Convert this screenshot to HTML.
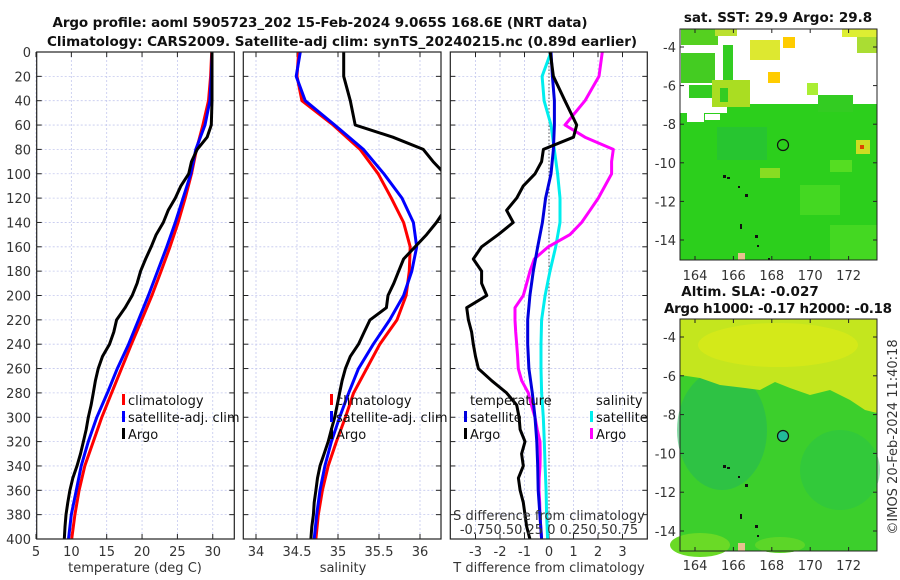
<!DOCTYPE html>
<html><head><meta charset="utf-8">
<style>
html,body{margin:0;padding:0;background:#fff;}
svg{display:block;font-family:"DejaVu Sans","Liberation Sans",sans-serif;}
.tk{font-size:13px;fill:#333;}
.ttl{font-size:13.5px;font-weight:bold;fill:#111;}
.lg{font-size:13px;fill:#111;}
</style></head>
<body>
<svg id="fig" width="900" height="580" viewBox="0 0 900 580">
<defs>
<clipPath id="c1"><rect x="36.7" y="52" width="197.6" height="487"/></clipPath>
<clipPath id="c2"><rect x="243.3" y="52" width="197.7" height="487"/></clipPath>
<clipPath id="c3"><rect x="450.3" y="52" width="197" height="487"/></clipPath>
</defs>
<g id="titles">
<text class="ttl" x="320" y="27" text-anchor="middle" textLength="535">Argo profile: aoml 5905723_202 15-Feb-2024 9.065S 168.6E (NRT data)</text>
<text class="ttl" x="342" y="46" text-anchor="middle" textLength="590">Climatology: CARS2009. Satellite-adj clim: synTS_20240215.nc (0.89d earlier)</text>
</g>
<g id="panels"></g>

<!-- SST map -->
<g>
<text class="ttl" x="778" y="22" text-anchor="middle">sat. SST: 29.9 Argo: 29.8</text>
<rect x="680" y="29" width="197" height="231" fill="#fff"/>
<rect x="680" y="113" width="197" height="147" fill="#2ccf1c"/>
<rect x="727" y="104" width="150" height="10" fill="#2ccf1c"/>
<rect x="687" y="112" width="17" height="10" fill="#fff"/>
<rect x="705" y="114" width="15" height="6" fill="#fff"/>
<rect x="717" y="127" width="50" height="33" fill="#22bb44" opacity="0.5"/>
<rect x="681" y="29" width="37" height="16" fill="#55d020"/>
<rect x="715" y="29" width="22" height="7" fill="#bbe030"/>
<rect x="723" y="45" width="10" height="40" fill="#33cc22"/>
<rect x="681" y="53" width="34" height="30" fill="#44cc22"/>
<rect x="750" y="40" width="30" height="20" fill="#dde830"/>
<rect x="783" y="37" width="12" height="11" fill="#ffcc00"/>
<rect x="768" y="72" width="12" height="11" fill="#ffcc00"/>
<rect x="689" y="85" width="23" height="13" fill="#33cc22"/>
<rect x="712" y="80" width="38" height="27" fill="#aadd22"/>
<rect x="720" y="88" width="8" height="14" fill="#33cc22"/>
<rect x="807" y="83" width="11" height="12" fill="#aaee33"/>
<rect x="818" y="95" width="35" height="17" fill="#33cc22"/>
<rect x="842" y="29" width="35" height="8" fill="#ddee33"/>
<rect x="857" y="37" width="20" height="16" fill="#aadd33"/>
<rect x="856" y="140" width="14" height="14" fill="#ccdd22"/>
<rect x="860" y="145" width="4" height="4" fill="#dd4400"/>
<rect x="760" y="168" width="20" height="10" fill="#88dd22"/>
<rect x="830" y="160" width="22" height="12" fill="#55dd22"/>
<rect x="800" y="185" width="40" height="30" fill="#44d822"/>
<rect x="830" y="225" width="47" height="35" fill="#44d822"/>
<rect x="738" y="253" width="7" height="7" fill="#e8c090"/>
<g fill="#111"><rect x="723" y="175" width="3" height="3"/><rect x="727" y="177" width="3" height="2"/><rect x="738" y="186" width="2" height="2"/><rect x="745" y="194" width="3" height="3"/><rect x="740" y="224" width="2" height="5"/><rect x="755" y="235" width="3" height="3"/><rect x="757" y="245" width="2" height="2"/><rect x="768" y="258" width="2" height="2"/></g>
<circle cx="783" cy="145" r="5.5" fill="none" stroke="#111" stroke-width="1.2"/>
<rect x="680" y="29" width="197" height="231" fill="none" stroke="#222" stroke-width="1"/>
<g id="sstAx"></g>
</g>

<!-- SLA map -->
<g>
<text class="ttl" x="750" y="296" text-anchor="middle">Altim. SLA: -0.027</text>
<text class="ttl" x="778" y="313" text-anchor="middle" textLength="228">Argo h1000: -0.17 h2000: -0.18</text>
<rect x="680" y="319" width="197" height="232" fill="#3ccf2c"/>
<ellipse cx="722" cy="430" rx="45" ry="60" fill="#22b85a" opacity="0.55"/>
<ellipse cx="840" cy="470" rx="40" ry="40" fill="#22c050" opacity="0.4"/>
<polygon points="680,319 877,319 877,413 865,410 850,400 830,390 810,395 790,388 775,382 760,390 745,388 720,385 700,378 680,375" fill="#c4e61e"/>
<ellipse cx="778" cy="345" rx="80" ry="22" fill="#d8ea18" opacity="0.8"/>
<ellipse cx="700" cy="545" rx="30" ry="12" fill="#6ada26"/>
<ellipse cx="780" cy="545" rx="25" ry="8" fill="#5cd628"/>
<rect x="738" y="543" width="7" height="8" fill="#e8c090"/>
<g fill="#111"><rect x="723" y="465" width="3" height="3"/><rect x="727" y="467" width="3" height="2"/><rect x="738" y="476" width="2" height="2"/><rect x="745" y="484" width="3" height="3"/><rect x="740" y="514" width="2" height="5"/><rect x="755" y="525" width="3" height="3"/><rect x="757" y="535" width="2" height="2"/></g>
<circle cx="783" cy="436" r="5.5" fill="#22bb99" stroke="#111" stroke-width="1.2"/>
<rect x="680" y="319" width="197" height="232" fill="none" stroke="#222" stroke-width="1"/>
<g id="slaAx"></g>
</g>
<text class="tk" transform="translate(897,437) rotate(-90)" text-anchor="middle">©IMOS 20-Feb-2024 11:40:18</text>
</svg>
<script>
// ---- data ----
const depths = [0,20,40,60,80,100,120,140,160,180,200,220,240,260,280,300,320,340,360,380,400];
const tempClim = [29.85,29.7,29.4,28.6,27.7,27.0,26.1,25.1,23.95,22.7,21.4,19.95,18.5,17.1,15.7,14.3,13.1,11.9,11.1,10.5,10.05];
const tempSat = [29.9,29.8,29.6,28.9,27.6,26.9,25.8,24.7,23.5,22.2,20.9,19.5,18.1,16.5,15.1,13.6,12.4,11.4,10.7,10.0,9.6];
const argoDepths = [0,20,40,60,70,80,90,100,110,120,130,140,150,160,170,180,190,200,210,220,230,240,250,260,270,280,290,300,310,320,330,340,350,360,370,380,390,400];
const tempArgo = [29.9,29.9,29.9,29.8,29.2,27.8,27.0,26.6,25.5,24.7,23.7,23.0,22.0,21.3,20.5,19.8,19.3,18.6,17.6,16.4,16.0,15.4,14.4,13.8,13.4,13.1,12.8,12.4,12.1,11.7,11.3,10.8,10.2,9.8,9.5,9.25,9.1,9.0];
const salClim = [34.52,34.50,34.56,34.94,35.27,35.49,35.65,35.80,35.88,35.87,35.83,35.72,35.51,35.35,35.19,35.09,34.98,34.88,34.81,34.76,34.73];
const salSat = [34.54,34.49,34.60,34.96,35.31,35.56,35.78,35.92,35.96,35.90,35.80,35.63,35.43,35.25,35.13,35.02,34.92,34.84,34.78,34.74,34.71];
const salArgo = [35.07,35.07,35.15,35.21,35.67,36.04,36.16,36.3,36.35,36.35,36.3,36.2,36.08,35.94,35.80,35.74,35.68,35.61,35.59,35.39,35.32,35.25,35.15,35.09,35.05,35.02,34.99,34.96,34.92,34.88,34.83,34.78,34.75,34.73,34.71,34.70,34.68,34.67];
const dTSat = [0.08,0.14,0.22,0.22,0.18,0.08,-0.14,-0.27,-0.46,-0.64,-0.78,-0.87,-0.87,-0.82,-0.68,-0.57,-0.50,-0.46,-0.44,-0.37,-0.30];
const dTArgo = [0.05,0.18,0.65,1.13,1.0,-0.23,-0.3,-0.57,-1.05,-1.32,-1.73,-1.46,-2.07,-2.75,-3.09,-2.75,-2.75,-2.54,-3.36,-3.29,-3.16,-3.09,-3.0,-2.88,-2.34,-1.73,-1.32,-1.22,-1.18,-0.98,-1.12,-1.05,-1.25,-1.18,-1.05,-0.98,-0.91,-0.78];
const dSSat = [0.02,-0.07,-0.05,0.02,0.054,0.088,0.112,0.112,0.068,0.01,-0.04,-0.075,-0.082,-0.082,-0.075,-0.058,-0.048,-0.04,-0.03,-0.024,-0.014];
const dSArgo = [0.544,0.51,0.367,0.163,0.367,0.656,0.639,0.639,0.571,0.503,0.418,0.333,0.214,-0.007,-0.15,-0.194,-0.228,-0.262,-0.347,-0.347,-0.34,-0.33,-0.32,-0.313,-0.279,-0.211,-0.18,-0.143,-0.12,-0.092,-0.09,-0.092,-0.1,-0.102,-0.095,-0.092,-0.085,-0.075];
const depthTicks = [0,20,40,60,80,100,120,140,160,180,200,220,240,260,280,300,320,340,360,380,400];
const tempTicks = [5,10,15,20,25,30];
const salTicks = [34,34.5,35,35.5,36];
const dTTicks = [-3,-2,-1,0,1,2,3];
const lonTicks = [164,166,168,170,172];
const sstLatTicks = [-4,-6,-8,-10,-12,-14];
const slaLatTicks = [-4,-6,-8,-10,-12,-14];

// ---- scales ----
const NS='http://www.w3.org/2000/svg';
const yD = d => 52 + d*1.2175;
const xT = t => 36 + (t-5)*7.07;
const xS = s => 256 + (s-34)*82;
const xDT = t => 549 + t*24.5;
const xDS = s => 549 + s*98;
const P = [{x0:36.7,x1:234.3},{x0:243.3,x1:441},{x0:450.3,x1:647.3}];
const root = document.getElementById('panels');
function el(tag, attrs, parent){const e=document.createElementNS(NS,tag);for(const k in attrs)e.setAttribute(k,attrs[k]);(parent||root).appendChild(e);return e;}
function txt(x,y,s,cls,anchor,parent){const t=el('text',{x:x,y:y,class:cls,'text-anchor':anchor||'middle'},parent);t.textContent=s;return t;}

P.forEach((p,i)=>{
  const g=el('g',{});
  
  
  depthTicks.forEach(d=>{
    const y=yD(d);
    const l=el('line',{x1:p.x0,x2:p.x1,y1:y,y2:y,stroke:'#c4c8ee','stroke-width':0.8,'stroke-dasharray':'2,2'},g);
    
    
    el('line',{x1:p.x0,x2:p.x0+5,y1:y,y2:y,stroke:'#222','stroke-width':1},g);
    el('line',{x1:p.x1-5,x2:p.x1,y1:y,y2:y,stroke:'#222','stroke-width':1},g);
  });
  const ticks=[tempTicks,salTicks,dTTicks][i], fx=[xT,xS,xDT][i];
  ticks.forEach(v=>{
    const x=fx(v);
    const l=el('line',{x1:x,x2:x,y1:52,y2:539,stroke:'#c4c8ee','stroke-width':0.8,'stroke-dasharray':'2,2'},g);
    
    
    el('line',{x1:x,x2:x,y1:539,y2:534,stroke:'#222'},g);
    el('line',{x1:x,x2:x,y1:52,y2:57,stroke:'#222'},g);
    const t=txt(x,556,String(v),'tk','middle',g);
    
    
  });
});
el('line',{x1:xDT(0),x2:xDT(0),y1:52,y2:539,stroke:'#555','stroke-width':1,'stroke-dasharray':'1.5,2'});
depthTicks.forEach(d=>{
  const t=txt(31,yD(d)+5,String(d),'tk','end');
  
  
});

function line(xs,ds,fx,color,clip,name){
  const pts=xs.map((v,i)=>fx(v).toFixed(1)+','+yD(ds[i]).toFixed(1)).join(' ');
  const pl=el('polyline',{points:pts,fill:'none',stroke:color,'stroke-width':3,'stroke-linejoin':'round','clip-path':'url(#'+clip+')'});
  
  
}
line(tempClim,depths,xT,'#ff0000','c1','temp-climatology-line');
line(tempSat,depths,xT,'#0000ff','c1','temp-satellite-line');
line(tempArgo,argoDepths,xT,'#000000','c1','temp-argo-line');
line(salClim,depths,xS,'#ff0000','c2','sal-climatology-line');
line(salSat,depths,xS,'#0000ff','c2','sal-satellite-line');
line(salArgo,argoDepths,xS,'#000000','c2','sal-argo-line');
line(dSSat,depths,xDS,'#00eeee','c3','sdiff-satellite-line');
line(dSArgo,argoDepths,xDS,'#ff00ff','c3','sdiff-argo-line');
line(dTSat,depths,xDT,'#0000dd','c3','tdiff-satellite-line');
line(dTArgo,argoDepths,xDT,'#000000','c3','tdiff-argo-line');

P.forEach(p=>{el('rect',{x:p.x0,y:52,width:p.x1-p.x0,height:487,fill:'none',stroke:'#222','stroke-width':1.2});});

// legends
function legend(x,y,color,label,name){
  const g=el('g',{});
  
  
  el('rect',{x:x,y:y-11,width:3,height:11,fill:color},g);
  txt(x+6,y,label,'lg','start',g);
}
legend(122,405,'#ff0000','climatology','legend-temp-climatology');
legend(122,422,'#0000ff','satellite-adj. clim','legend-temp-satellite');
legend(122,439,'#000000','Argo','legend-temp-argo');
legend(330,405,'#ff0000','climatology','legend-sal-climatology');
legend(330,422,'#0000ff','satellite-adj. clim','legend-sal-satellite');
legend(330,439,'#000000','Argo','legend-sal-argo');
txt(470,405,'temperature','lg','start');
txt(596,405,'salinity','lg','start');
legend(464,422,'#0000dd','satellite','legend-tdiff-satellite');
legend(464,439,'#000000','Argo','legend-tdiff-argo');
legend(590,422,'#00eeee','satellite','legend-sdiff-satellite');
legend(590,439,'#ff00ff','Argo','legend-sdiff-argo');
txt(549,520,'S difference from climatology','tk','middle');
txt(549,534,'-0.750.50.25 0 0.250.50.75','tk','middle');
txt(135,572,'temperature (deg C)','tk','middle');
txt(343,572,'salinity','tk','middle');
txt(549,572,'T difference from climatology','tk','middle');

// map axes
function mapAxes(id,top,bot,latY,lonY){
  const g=document.getElementById(id);
  lonTicks.forEach(v=>{const x=695+(v-164)*19.2;
    el('line',{x1:x,x2:x,y1:bot,y2:bot-4,stroke:'#222'},g);
    el('line',{x1:x,x2:x,y1:top,y2:top+4,stroke:'#222'},g);
    const t=txt(x,lonY,String(v),'tk','middle',g);
    
    });
  const lat = id==='sstAx'?sstLatTicks:slaLatTicks;
  lat.forEach(v=>{const y=latY(v);
    el('line',{x1:680,x2:684,y1:y,y2:y,stroke:'#222'},g);
    el('line',{x1:873,x2:877,y1:y,y2:y,stroke:'#222'},g);
    const t=txt(676,y+5,String(v),'tk','end',g);
    
    });
}
mapAxes('sstAx',29,260,v=>47+(-v-4)*19.3,280);
mapAxes('slaAx',319,551,v=>337+(-v-4)*19.4,570);
</script>
</body></html>
